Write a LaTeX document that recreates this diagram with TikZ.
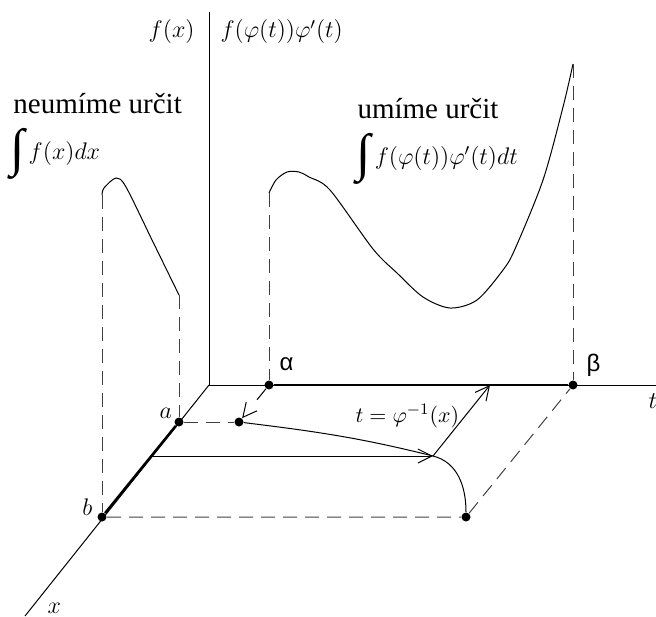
\documentclass[tikz,border=0pt]{standalone}
\usepackage{fontspec}
\setmainfont{Liberation Serif}
\setsansfont{Liberation Sans}
\usepackage{amsmath}
\usetikzlibrary{arrows.meta, calc}

\tikzset{
    dot/.style={circle, fill, inner sep=0pt, minimum size=4.5pt},
    heavy/.style={line width=1.3pt},
    dashline/.style={black!75, dash pattern=on 7pt off 4pt},
    arr/.style={-{Straight Barb[length=7pt, width=7pt]}},
    lbl/.style={inner sep=0pt, font=\fontsize{12}{14}\selectfont},
    txt/.style={inner sep=0pt, font=\fontsize{14.5}{17}\selectfont},
    greek/.style={inner sep=0pt, font=\sffamily\fontsize{12}{14}\selectfont}
}
\newcommand{\bigint}{\raisebox{-3pt}{\fontsize{26}{28}\selectfont ∫}\,}

\begin{document}
\begin{tikzpicture}[x=0.5pt, y=0.5pt, line width=0.5pt]
    \useasboundingbox (-209,-231) rectangle (447,385);

    % Draw axes
    \coordinate (O) at (0,0);
    \coordinate (ftop) at (0,373);
    \coordinate (tend) at (447,0);
    \coordinate (xend) at (-184,-231);
    \draw (ftop) -- (O) -- (tend);
    \draw (O) -- (xend);

    % Interval ends
    \node[dot] (a) at (-30,-37) {};
    \node[dot] (b) at (-107,-132) {};
    \node[dot] (alpha) at (60,0) {};
    \node[dot] (beta) at (364,0) {};
    \node[dot] (P) at ($(alpha)+(a)$) {};
    \node[dot] (Q) at ($(beta)+(b)$) {};
    \draw[heavy] (a) -- (b);
    \draw[heavy] (alpha) -- (beta);
    \draw[dashline] (a) -- (P);
    \draw[dashline] (b) -- (Q) -- (beta);
    \draw[arr, dash pattern=on 7pt off 30pt] (alpha) -- (P);

    % Graph of f over [a,b]
    \coordinate (fa) at (-30,90);
    \coordinate (fb) at (-107,190);
    \draw plot[smooth] coordinates {(-107,190) (-105,197) (-93,207) (-83,198) (-56,143) (-30,90)};
    \draw[dashline] (fb) -- (b);
    \draw[dashline] (fa) -- (a);

    % Graph of f(phi(t))phi'(t) over [alpha,beta]
    \coordinate (galpha) at (60,192);
    \coordinate (gbeta) at (364,321);
    \draw plot[smooth] coordinates {(60,192) (67,205) (78,213) (90,213) (100,208) (121,195) (164,136) (188,112) (214,88) (241,77) (268,85) (294,115) (306,136) (334,205) (354,278) (364,321)};
    \draw[dashline] (galpha) -- (alpha);
    \draw[dashline] (gbeta) -- (beta);

    % Substitution curve
    \coordinate (xs) at (-57,-71);
    \coordinate (ts) at (281,0);
    \coordinate (R) at ($(xs)+(ts)$);
    \draw (P) to[out=-7, in=166] (R) to[out=-14, in=90] (Q);
    \draw[arr] (xs) -- (R);
    \draw[arr] (R) -- (ts);

    % Labels
    \node[lbl, anchor=base east] (fx) at (-14,347) {$f(x)$};
    \node[lbl, anchor=base west] (fphi) at (11,347) {$f(\varphi(t))\varphi'(t)$};
    \node[txt, anchor=base west] (cannot) at (-196,271) {neumíme určit};
    \node[lbl, anchor=base west] (intf) at (-199,226) {\bigint$f(x)dx$};
    \node[txt, anchor=base west] (can) at (148,267) {umíme určit};
    \node[lbl, anchor=base west] (intg) at (147,221) {\bigint$f(\varphi(t))\varphi'(t)dt$};
    \node[greek, anchor=base west] (lalpha) at (70,15) {α};
    \node[greek, anchor=base west] (lbeta) at (377,14) {β};
    \node[lbl, anchor=base west] (lt) at (439,-23) {$t$};
    \node[lbl, anchor=base west] (la) at (-50,-33) {$a$};
    \node[lbl, anchor=base west] (lb) at (-127,-130) {$b$};
    \node[lbl, anchor=base west] (lx) at (-162,-228) {$x$};
    \node[lbl, anchor=base west, font=\fontsize{11}{13}\selectfont] (subst) at (146,-37) {$t=\varphi^{-1}(x)$};
\end{tikzpicture}
\end{document}
